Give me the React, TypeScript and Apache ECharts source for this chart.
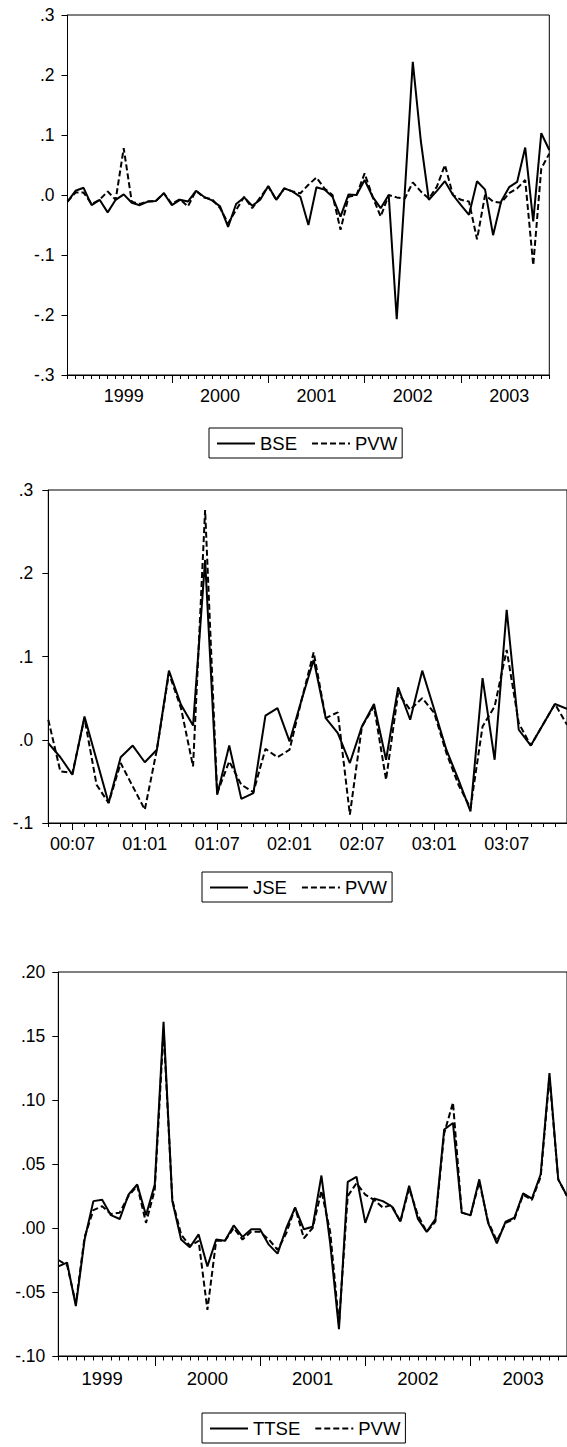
import React, { useEffect, useRef } from "react";
import * as echarts from "echarts";

// ---------- categories ----------
function monthRange(startY: number, startM: number, n: number, short: boolean): string[] {
  const out: string[] = [];
  let y = startY;
  let m = startM;
  for (let i = 0; i < n; i++) {
    const ys = short ? String(y).slice(2) : String(y);
    out.push(ys + ":" + (m < 10 ? "0" + m : String(m)));
    m++;
    if (m > 12) { m = 1; y++; }
  }
  return out;
}

const bseMonths = monthRange(1998, 12, 61, false); // 1998:12 .. 2003:12
const jseMonths = monthRange(2000, 5, 44, true); // 00:05 .. 03:12
const ttseMonths = monthRange(1999, 2, 59, false); // 1999:02 .. 2003:12

const bseTickLabels = ["1999", "2000", "2001", "2002", "2003"];
const jseTickLabels = ["00:07", "01:01", "01:07", "02:01", "02:07", "03:01", "03:07"];
const ttseTickLabels = ["1999", "2000", "2001", "2002", "2003"];

// ---------- series values ----------
const bse = [
  -0.011, 0.007, 0.012, -0.017, -0.008, -0.029, -0.008, 0.001, -0.013, -0.017,
  -0.011, -0.010, 0.003, -0.017, -0.008, -0.011, 0.007, -0.003, -0.009, -0.019,
  -0.053, -0.015, -0.004, -0.018, -0.008, 0.015, -0.008, 0.011, 0.006, -0.003,
  -0.050, 0.013, 0.009, -0.003, -0.036, 0.001, 0.000, 0.025, -0.003, -0.022,
  0.000, -0.207, 0.004, 0.222, 0.090, -0.008, 0.007, 0.023, 0.000, -0.017,
  -0.033, 0.023, 0.009, -0.067, -0.011, 0.013, 0.022, 0.079, -0.044, 0.103,
  0.075,
];
const bsePvw = [
  -0.011, 0.004, 0.004, -0.015, -0.008, 0.006, -0.008, 0.078, -0.011, -0.015,
  -0.011, -0.010, 0.003, -0.015, -0.007, -0.019, 0.007, -0.004, -0.007, -0.022,
  -0.047, -0.025, -0.003, -0.022, -0.004, 0.014, -0.008, 0.011, 0.006, 0.003,
  0.017, 0.029, 0.011, 0.000, -0.058, -0.003, 0.000, 0.036, -0.003, -0.036,
  0.000, -0.004, -0.006, 0.021, 0.006, -0.006, 0.014, 0.050, 0.000, -0.008,
  -0.011, -0.074, 0.000, -0.011, -0.013, 0.003, 0.011, 0.025, -0.117, 0.044,
  0.069,
];

const jse = [
  -0.004, -0.021, -0.042, 0.028, -0.024, -0.076, -0.021, -0.007, -0.027, -0.012,
  0.083, 0.042, 0.017, 0.216, -0.066, -0.007, -0.071, -0.064, 0.029, 0.038,
  -0.002, 0.048, 0.096, 0.026, 0.008, -0.028, 0.016, 0.043, -0.024, 0.063,
  0.024, 0.083, 0.036, -0.012, -0.048, -0.086, 0.074, -0.024, 0.156, 0.012,
  -0.007, 0.018, 0.043, 0.037,
];
const jsePvw = [
  0.024, -0.038, -0.040, 0.026, -0.054, -0.076, -0.028, -0.056, -0.084, -0.012,
  0.080, 0.038, -0.032, 0.276, -0.064, -0.026, -0.054, -0.063, -0.011, -0.021,
  -0.012, 0.048, 0.105, 0.026, 0.033, -0.090, 0.016, 0.040, -0.048, 0.056,
  0.036, 0.050, 0.032, -0.016, -0.054, -0.082, 0.016, 0.040, 0.108, 0.020,
  -0.007, 0.018, 0.043, 0.018,
];

const ttse = [
  -0.030, -0.027, -0.061, -0.009, 0.021, 0.022, 0.010, 0.007, 0.026, 0.034,
  0.010, 0.034, 0.161, 0.021, -0.009, -0.015, -0.005, -0.030, -0.009, -0.010,
  0.002, -0.007, -0.001, -0.001, -0.013, -0.020, 0.000, 0.016, -0.001, 0.001,
  0.041, -0.012, -0.079, 0.036, 0.040, 0.004, 0.023, 0.021, 0.017, 0.005,
  0.033, 0.007, -0.003, 0.007, 0.077, 0.082, 0.012, 0.010, 0.038, 0.004,
  -0.012, 0.005, 0.008, 0.027, 0.023, 0.042, 0.121, 0.038, 0.025,
];
const ttsePvw = [
  -0.025, -0.029, -0.059, -0.007, 0.014, 0.017, 0.011, 0.012, 0.025, 0.033,
  0.004, 0.030, 0.155, 0.022, -0.005, -0.014, -0.010, -0.064, -0.010, -0.010,
  0.000, -0.009, -0.003, -0.003, -0.009, -0.017, -0.004, 0.016, -0.008, 0.000,
  0.029, -0.003, -0.075, 0.025, 0.035, 0.026, 0.022, 0.016, 0.018, 0.005,
  0.031, 0.010, -0.003, 0.005, 0.074, 0.098, 0.012, 0.010, 0.036, 0.005,
  -0.010, 0.004, 0.007, 0.026, 0.022, 0.040, 0.118, 0.038, 0.025,
];

const FONT = '"Liberation Sans", Arial, Helvetica, sans-serif';

function yFmt(d: number) {
  return (v: number) => {
    const r = Math.round(v * 1000) / 1000;
    const s = Math.abs(r).toFixed(d).replace(/^0/, "");
    return (r < 0 ? "-" : "") + s;
  };
}

export default function App() {
  const ref = useRef<HTMLDivElement>(null);

  useEffect(() => {
    if (!ref.current) return;
    const chart = echarts.init(ref.current, null, { renderer: "svg" });

    const black = "#000";

    const dataAxis = (
      gridIndex: number,
      cats: string[],
      showLabel: (v: string) => boolean,
      fmt: (v: string) => string,
      fontSize: number,
      margin: number
    ) => ({
      type: "category",
      gridIndex,
      data: cats,
      boundaryGap: false,
      position: "bottom",
      axisLine: { show: true, onZero: false, lineStyle: { color: black, width: 1 } },
      axisTick: { show: false },
      axisLabel: {
        show: true,
        interval: (_i: number, v: string) => showLabel(v),
        formatter: (v: string) => fmt(v),
        color: black,
        fontSize,
        fontFamily: FONT,
        margin,
      },
      splitLine: { show: false },
    });

    const tickAxis = (gridIndex: number, cats: string[], pick: (v: string) => boolean, len: number) => ({
      type: "category",
      gridIndex,
      data: cats,
      boundaryGap: false,
      position: "bottom",
      axisLine: { show: false, onZero: false },
      axisTick: {
        show: true,
        interval: (_i: number, v: string) => pick(v),
        length: len,
        lineStyle: { color: black, width: 1 },
      },
      axisLabel: { show: false },
      splitLine: { show: false },
    });

    const yAxis = (gridIndex: number, min: number, max: number, interval: number, d: number, fontSize: number, margin: number) => ({
      type: "value",
      gridIndex,
      min,
      max,
      interval,
      axisLine: { show: true, onZero: false, lineStyle: { color: black, width: 1 } },
      axisTick: { show: true, length: 6, lineStyle: { color: black, width: 1 } },
      axisLabel: { formatter: yFmt(d), color: black, fontSize, fontFamily: FONT, margin },
      splitLine: { show: false },
    });

    const solid = (name: string, data: number[], xi: number, yi: number) => ({
      type: "line",
      name,
      data,
      xAxisIndex: xi,
      yAxisIndex: yi,
      symbol: "none",
      showSymbol: false,
      lineStyle: { color: black, width: 2, type: "solid" },
      itemStyle: { color: black },
      z: 3,
    });
    const dashed = (data: number[], xi: number, yi: number) => ({
      type: "line",
      name: "PVW",
      data,
      xAxisIndex: xi,
      yAxisIndex: yi,
      symbol: "none",
      showSymbol: false,
      lineStyle: { color: black, width: 2, type: [6, 3] },
      itemStyle: { color: black },
      z: 2,
    });

    const legend = (names: string[], left: number, top: number) => ({
      data: names,
      left,
      top,
      orient: "horizontal",
      selectedMode: false,
      borderColor: black,
      borderWidth: 1,
      padding: [6, 5, 5, 7],
      itemWidth: 38,
      itemHeight: 12,
      itemGap: 14,
      itemStyle: { opacity: 0 },
      textStyle: { color: black, fontSize: 18.5, fontFamily: FONT },
    });

    const all = () => true;

    const option: any = {
      animation: false,
      backgroundColor: "#fff",
      textStyle: { fontFamily: FONT },
      grid: [
        { left: 67.5, top: 15, width: 481.8, height: 360, show: true, borderColor: black, borderWidth: 1 },
        { left: 48.3, top: 490, width: 520.3, height: 333, show: true, borderColor: black, borderWidth: 1 },
        { left: 58.3, top: 972, width: 512.1, height: 384, show: true, borderColor: black, borderWidth: 1 },
      ],
      xAxis: [
        dataAxis(0, bseMonths, (v) => v.endsWith(":07") && bseTickLabels.includes(v.slice(0, 4)), (v) => v.slice(0, 4), 18, 12),
        tickAxis(0, bseMonths, all, 4),
        tickAxis(0, bseMonths, (v) => v.endsWith(":01") && v !== "1999:01", 8),
        dataAxis(1, jseMonths, (v) => jseTickLabels.includes(v), (v) => v, 18, 12),
        tickAxis(1, jseMonths, all, 4),
        tickAxis(1, jseMonths, (v) => jseTickLabels.includes(v), 7),
        dataAxis(2, ttseMonths, (v) => v.endsWith(":07") && ttseTickLabels.includes(v.slice(0, 4)), (v) => v.slice(0, 4), 18.5, 13),
        tickAxis(2, ttseMonths, all, 4.5),
        tickAxis(2, ttseMonths, (v) => v.endsWith(":01"), 10),
      ],
      yAxis: [
        yAxis(0, -0.3, 0.3, 0.1, 1, 17.5, 13),
        yAxis(1, -0.1, 0.3, 0.1, 1, 17.5, 15),
        yAxis(2, -0.1, 0.2, 0.05, 2, 17.5, 13),
      ],
      legend: [
        legend(["BSE", "PVW"], 209, 428),
        legend(["JSE", "PVW"], 202, 872),
        legend(["TTSE", "PVW"], 202, 1413),
      ],
      series: [
        solid("BSE", bse, 0, 0),
        dashed(bsePvw, 0, 0),
        solid("JSE", jse, 3, 1),
        dashed(jsePvw, 3, 1),
        solid("TTSE", ttse, 6, 2),
        dashed(ttsePvw, 6, 2),
      ],
    };

    chart.setOption(option);
    return () => chart.dispose();
  }, []);

  return (
    <div
      ref={ref}
      style={{ position: "absolute", left: 0, top: 0, width: 567, height: 1447, background: "#fff" }}
    />
  );
}
